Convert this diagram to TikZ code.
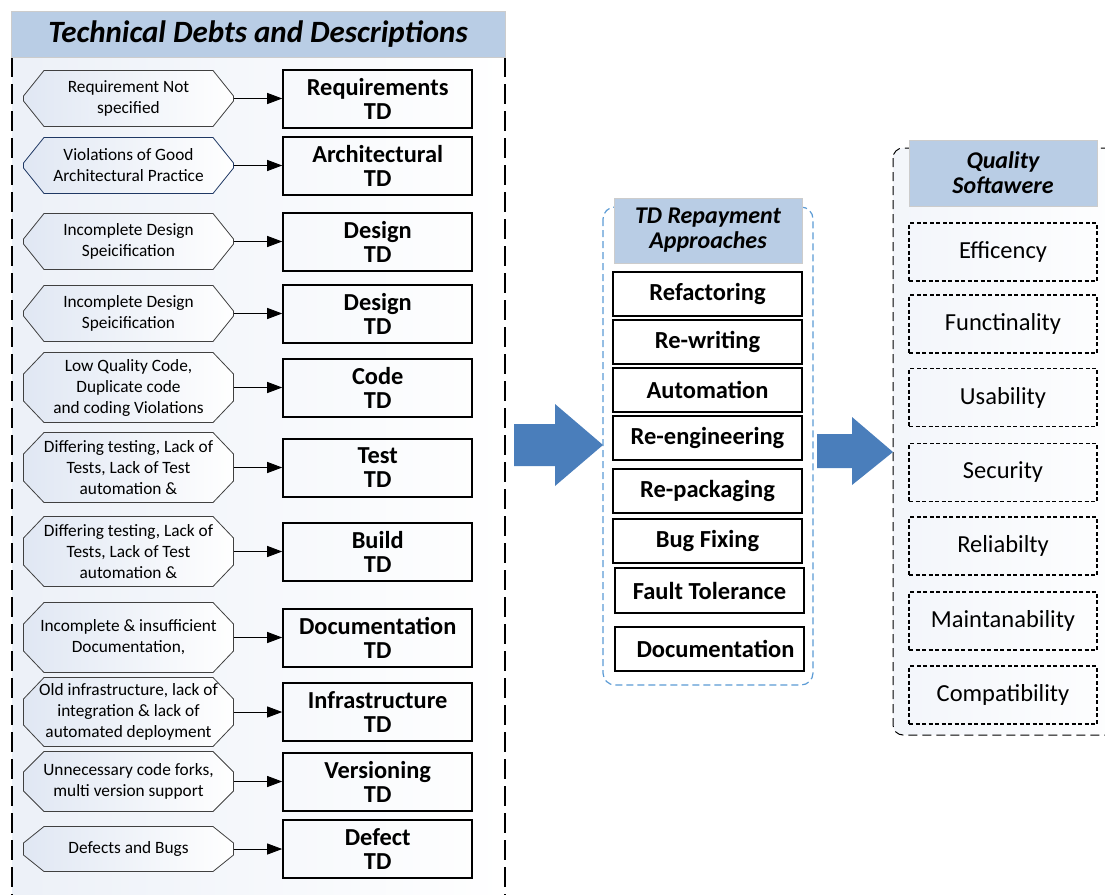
\documentclass[tikz,border=0pt]{standalone}
\usepackage{fontspec}
\setmainfont{Carlito}
\usepackage{xcolor}
\usepackage{tikz}
\usetikzlibrary{arrows.meta,positioning}

\definecolor{headblue}{RGB}{185,205,229}
\definecolor{arrowblue}{RGB}{74,126,187}
\definecolor{frameblue}{RGB}{91,155,213}
\definecolor{hexblue}{RGB}{224,231,243}
\definecolor{navy}{RGB}{31,56,100}

\begin{document}
\begin{tikzpicture}[x=1pt, y=-1pt, >={Triangle[length=15pt,width=11pt]},
  hex cut/.store in=\hexcut, hex cut=22pt,
  debt/.default=black!75,
  debt/.style={minimum width=211pt, minimum height=57pt, inner sep=0pt, align=center,
    font=\fontsize{17.3}{21}\selectfont,
    path picture={\draw[draw=#1, line width=0.8pt, left color=hexblue, right color=white]
      ([xshift=21pt, yshift=-0.5pt]path picture bounding box.north west)
      -- ([xshift=-21pt, yshift=-0.5pt]path picture bounding box.north east)
      -- ([xshift=-0.5pt, yshift=-\hexcut]path picture bounding box.north east)
      -- ([xshift=-0.5pt, yshift=\hexcut]path picture bounding box.south east)
      -- ([xshift=-21pt, yshift=0.5pt]path picture bounding box.south east)
      -- ([xshift=21pt, yshift=0.5pt]path picture bounding box.south west)
      -- ([xshift=0.5pt, yshift=\hexcut]path picture bounding box.south west)
      -- ([xshift=0.5pt, yshift=-\hexcut]path picture bounding box.north west) -- cycle;}},
  tdbox/.style={draw, line width=2pt, minimum width=189pt, minimum height=58pt, inner sep=0pt,
    align=center, font=\bfseries\fontsize{24.4}{24}\selectfont},
  fixbox/.style={draw, line width=2pt, minimum width=189pt, minimum height=44pt, inner sep=0pt,
    font=\bfseries\fontsize{24.5}{24}\selectfont},
  qualbox/.style={draw, line width=1.8pt, dash pattern=on 4pt off 2.5pt, minimum width=188pt,
    minimum height=58pt, inner sep=0pt, font=\fontsize{24.5}{27}\selectfont},
  headbox/.style={fill=headblue, draw=black!20, inner sep=0pt, align=center,
    font=\bfseries\itshape\fontsize{24}{25}\selectfont},
  link/.style={->, line width=0.9pt}]
\clip (0,0) rectangle (1105,894);

% Panels
\fill[left color=hexblue!60, right color=white] (12,40) rectangle (505,900);
\draw[line width=2pt, dash pattern=on 20pt off 7pt] (12,57) -- (12,900);
\draw[line width=2pt, dash pattern=on 20pt off 7pt] (505,57) -- (505,900);
\draw[frameblue, line width=1.2pt, dash pattern=on 7pt off 4pt, rounded corners=12pt, fill=white]
  (603,207) rectangle (813,685);
\draw[line width=1pt, dash pattern=on 9pt off 5pt, rounded corners=10pt, left color=hexblue!40, right color=white]
  (893,148) rectangle (1140,735);

% Headers
\node[headbox, minimum width=494pt, minimum height=46pt, font=\bfseries\itshape\fontsize{31}{34}\selectfont]
  (titleDebt) at (258,34) {Technical Debts and Descriptions};
\node[headbox, minimum width=188pt, minimum height=65pt] (titleFix) at (708,230.5) {TD Repayment\\Approaches};
\node[headbox, minimum width=188pt, minimum height=66pt] (titleQual) at (1003,173) {Quality\\Softawere};

% Debt descriptions
\node[debt, hex cut=26pt] (dReq) at (128.5,98.5) {Requirement Not\\specified};
\node[debt=navy, hex cut=26pt] (dArch) at (128.5,165.5) {Violations of Good\\Architectural Practice};
\node[debt, hex cut=26pt] (dDesA) at (128.5,241.5) {Incomplete Design\\Speicification};
\node[debt, hex cut=26pt] (dDesB) at (128.5,313.5) {Incomplete Design\\Speicification};
\node[debt, minimum height=71pt] (dCode) at (128.5,387.5) {Low Quality Code,\\Duplicate code\\and coding Violations};
\node[debt, minimum height=71pt] (dTest) at (128.5,467.5) {Differing testing, Lack of\\Tests, Lack of Test\\automation \&};
\node[debt, minimum height=71pt] (dBuild) at (128.5,551.5) {Differing testing, Lack of\\Tests, Lack of Test\\automation \&};
\node[debt, minimum height=71pt] (dDoc) at (128.5,637.5) {Incomplete \& insufficient\\Documentation,};
\node[debt, minimum height=70pt] (dInfra) at (128.5,712) {Old infrastructure, lack of\\integration \& lack of\\automated deployment};
\node[debt, minimum height=61pt, hex cut=21pt] (dVer) at (128.5,781.5) {Unnecessary code forks,\\multi version support};
\node[debt, minimum height=46pt, hex cut=17pt] (dDef) at (128.5,849) {Defects and Bugs};

% TD types
\node[tdbox, right=48pt of dReq] (tdReq) {Requirements\\TD};
\node[tdbox, right=48pt of dArch] (tdArch) {Architectural\\TD};
\node[tdbox, right=48pt of dDesA] (tdDesA) {Design\\TD};
\node[tdbox, right=48pt of dDesB] (tdDesB) {Design\\TD};
\node[tdbox, right=48pt of dCode] (tdCode) {Code\\TD};
\node[tdbox, right=48pt of dTest] (tdTest) {Test\\TD};
\node[tdbox, right=48pt of dBuild] (tdBuild) {Build\\TD};
\node[tdbox, right=48pt of dDoc] (tdDoc) {Documentation\\TD};
\node[tdbox, right=48pt of dInfra] (tdInfra) {Infrastructure\\TD};
\node[tdbox, right=48pt of dVer] (tdVer) {Versioning\\TD};
\node[tdbox, right=48pt of dDef] (tdDef) {Defect\\TD};

% Links
\draw[link] (dReq) -- (tdReq);
\draw[link] (dArch) -- (tdArch);
\draw[link] (dDesA) -- (tdDesA);
\draw[link] (dDesB) -- (tdDesB);
\draw[link] (dCode) -- (tdCode);
\draw[link] (dTest) -- (tdTest);
\draw[link] (dBuild) -- (tdBuild);
\draw[link] (dDoc) -- (tdDoc);
\draw[link] (dInfra) -- (tdInfra);
\draw[link] (dVer) -- (tdVer);
\draw[link] (dDef) -- (tdDef);

% Repayment approaches
\node[fixbox] (fixRef) at (707.5,294) {Refactoring};
\node[fixbox] (fixRew) at (707.5,341.5) {Re-writing};
\node[fixbox] (fixAuto) at (707.5,390) {Automation};
\node[fixbox] (fixReeng) at (707.5,437.5) {Re-engineering};
\node[fixbox] (fixRepack) at (707.5,490.5) {Re-packaging};
\node[fixbox] (fixBug) at (707.5,541) {Bug Fixing};
\node[fixbox, minimum height=45pt] (fixFault) at (709.5,590.5) {Fault Tolerance};
\node[fixbox] (fixDoc) at (709.5,649) {\hspace{12pt}Documentation};

% Quality attributes
\node[qualbox] (qEff) at (1003,252) {Efficency};
\node[qualbox] (qFun) at (1003,324) {Functinality};
\node[qualbox] (qUse) at (1003,397.5) {Usability};
\node[qualbox] (qSec) at (1003,472.5) {Security};
\node[qualbox] (qRel) at (1003,546) {Reliabilty};
\node[qualbox] (qMain) at (1003,621) {Maintanability};
\node[qualbox] (qComp) at (1003,695) {Compatibility};

% Block arrows
\fill[arrowblue] (514,424) -- (555,424) -- (555,404) -- (603,445) -- (555,486) -- (555,466) -- (514,466) -- cycle;
\fill[arrowblue] (817,434) -- (852,434) -- (852,417) -- (893,452) -- (852,485) -- (852,468) -- (817,468) -- cycle;
\end{tikzpicture}
\end{document}
